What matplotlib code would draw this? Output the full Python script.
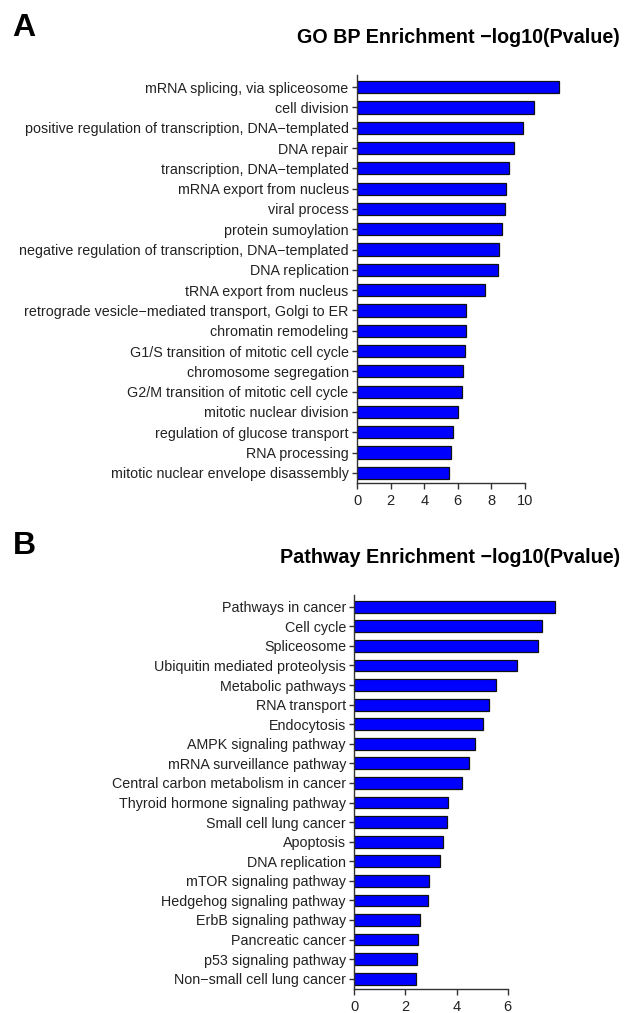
import matplotlib
matplotlib.use("Agg")
import matplotlib.pyplot as plt

plt.rcParams['font.family'] = ['Liberation Sans', 'DejaVu Sans']

go_terms = [
    "mRNA splicing, via spliceosome",
    "cell division",
    "positive regulation of transcription, DNA\u2212templated",
    "DNA repair",
    "transcription, DNA\u2212templated",
    "mRNA export from nucleus",
    "viral process",
    "protein sumoylation",
    "negative regulation of transcription, DNA\u2212templated",
    "DNA replication",
    "tRNA export from nucleus",
    "retrograde vesicle\u2212mediated transport, Golgi to ER",
    "chromatin remodeling",
    "G1/S transition of mitotic cell cycle",
    "chromosome segregation",
    "G2/M transition of mitotic cell cycle",
    "mitotic nuclear division",
    "regulation of glucose transport",
    "RNA processing",
    "mitotic nuclear envelope disassembly",
]
go_values = [12.0, 10.54, 9.86, 9.32, 9.07, 8.89, 8.79, 8.63, 8.45, 8.37,
             7.62, 6.51, 6.49, 6.45, 6.33, 6.25, 6.01, 5.69, 5.60, 5.49]
go_ticks = [0, 2, 4, 6, 8, 10]

path_terms = [
    "Pathways in cancer",
    "Cell cycle",
    "Spliceosome",
    "Ubiquitin mediated proteolysis",
    "Metabolic pathways",
    "RNA transport",
    "Endocytosis",
    "AMPK signaling pathway",
    "mRNA surveillance pathway",
    "Central carbon metabolism in cancer",
    "Thyroid hormone signaling pathway",
    "Small cell lung cancer",
    "Apoptosis",
    "DNA replication",
    "mTOR signaling pathway",
    "Hedgehog signaling pathway",
    "ErbB signaling pathway",
    "Pancreatic cancer",
    "p53 signaling pathway",
    "Non\u2212small cell lung cancer",
]
path_values = [7.85, 7.33, 7.17, 6.35, 5.54, 5.26, 5.02, 4.71, 4.49, 4.23,
               3.65, 3.61, 3.47, 3.34, 2.91, 2.88, 2.56, 2.49, 2.44, 2.43]
path_ticks = [0, 2, 4, 6]

W, H = 626, 1013
fig = plt.figure(figsize=(W / 100, H / 100), dpi=100)


def px_axes(left, top, right, bottom):
    return fig.add_axes([left / W, 1 - bottom / H, (right - left) / W, (bottom - top) / H])


def draw(ax, terms, values, ticks, xmax):
    n = len(terms)
    pos = list(range(n))
    ax.barh(pos, values, height=0.6, color='#0000ff', edgecolor='#111111', linewidth=0.9)
    ax.set_ylim(n - 0.5, -0.6)
    ax.set_xlim(0, xmax)
    ax.set_yticks(pos)
    ax.set_yticklabels(terms)
    ax.set_xticks(ticks)
    for s in ['top', 'right']:
        ax.spines[s].set_visible(False)
    for s in ['left', 'bottom']:
        ax.spines[s].set_color('#333333')
        ax.spines[s].set_linewidth(1.0)
    ax.spines['bottom'].set_bounds(ticks[0], ticks[-1])
    ax.tick_params(axis='y', labelsize=10.25, colors='#333333', labelcolor='#222222',
                   length=3.5, width=1.0, pad=2.5)
    ax.tick_params(axis='x', labelsize=10.5, colors='#333333', labelcolor='#222222',
                   length=4.5, width=1.0, pad=3.5)


ax1 = px_axes(357, 75, 357 + 12.2 * 16.8, 483)
draw(ax1, go_terms, go_values, go_ticks, 12.2)
ax2 = px_axes(354.3, 595, 354.3 + 8.0 * 25.56, 988.5)
draw(ax2, path_terms, path_values, path_ticks, 8.0)

fig.text(620 / W, 1 - 43.3 / H, "GO BP Enrichment \u2212log10(Pvalue)", ha='right', va='baseline',
         fontsize=14.2, fontweight='bold')
fig.text(620 / W, 1 - 563 / H, "Pathway Enrichment \u2212log10(Pvalue)", ha='right', va='baseline',
         fontsize=14.2, fontweight='bold')
fig.text(12 / W, 1 - 36 / H, "A", ha='left', va='baseline', fontsize=23, fontweight='bold')
fig.text(13 / W, 1 - 554 / H, "B", ha='left', va='baseline', fontsize=23, fontweight='bold')

fig.savefig("out.png", dpi=100)
